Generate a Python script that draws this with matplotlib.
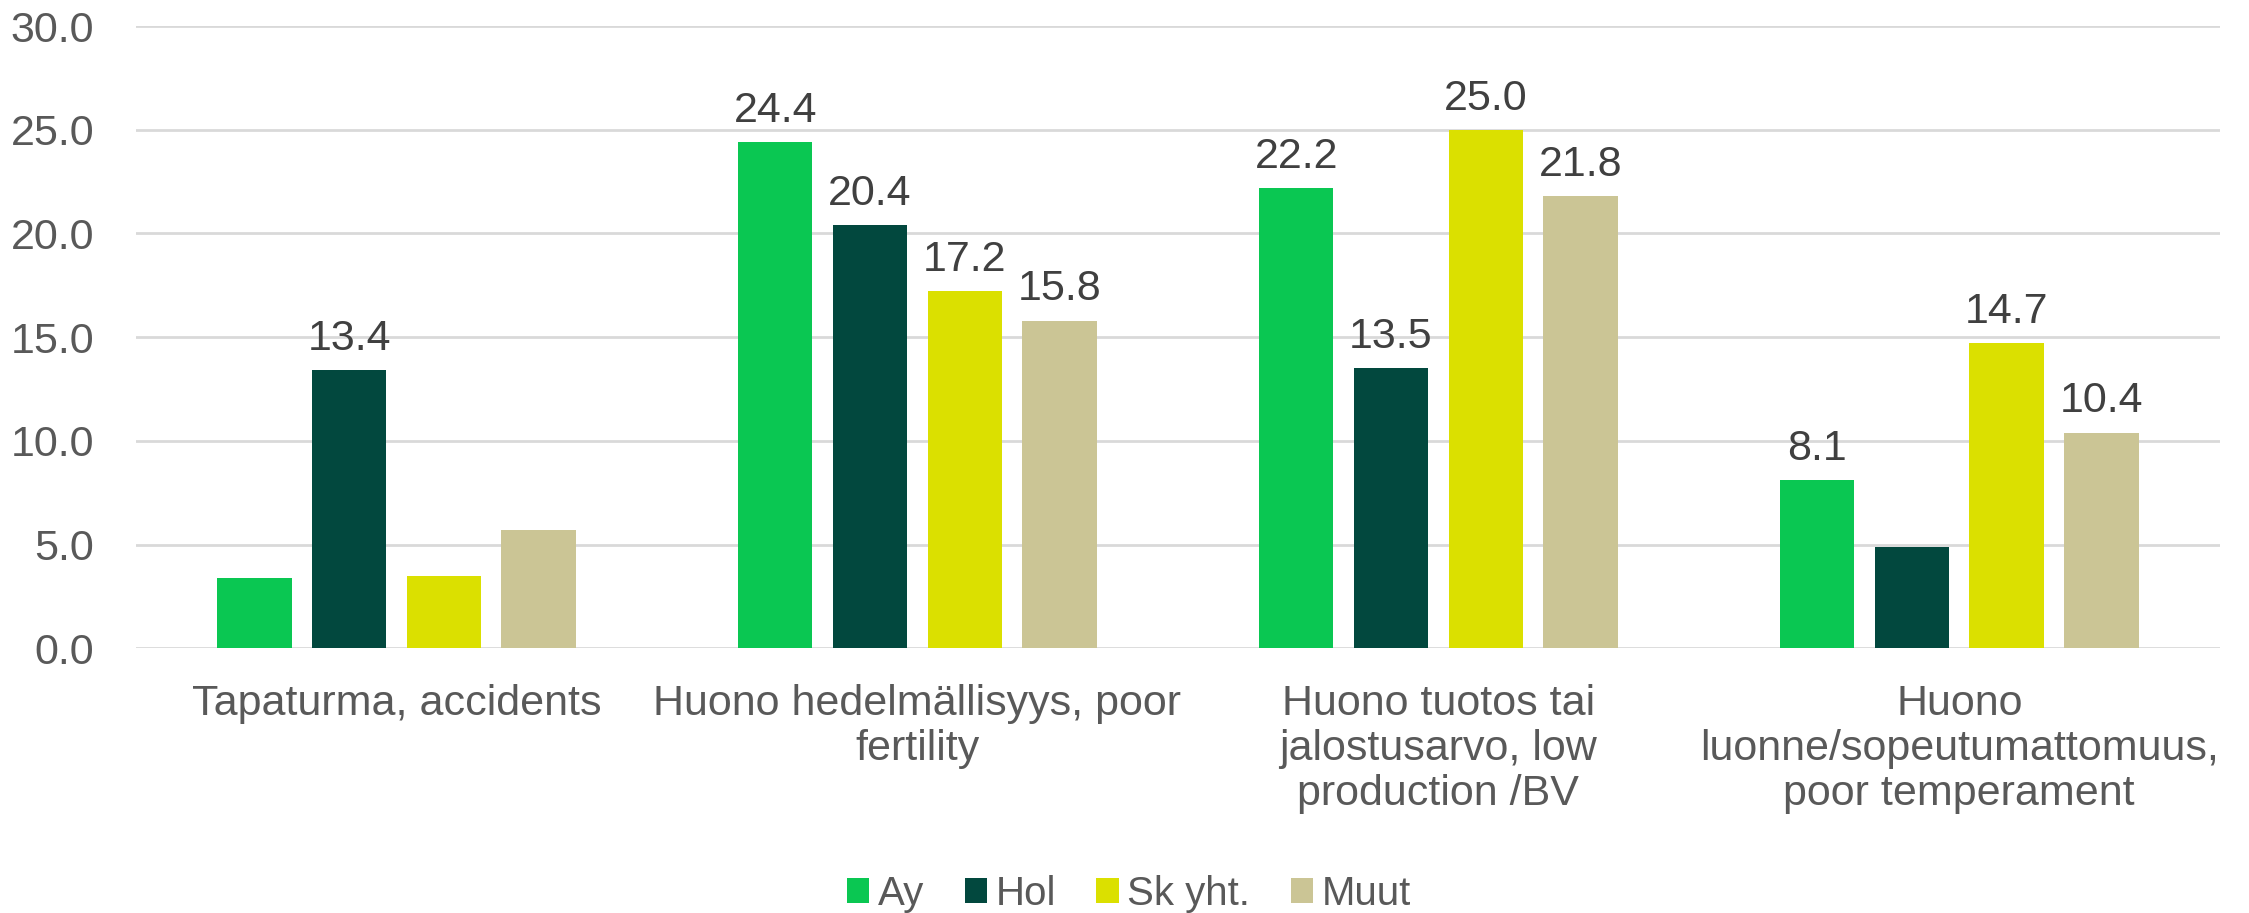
import numpy as np
import matplotlib.pyplot as plt

plt.rcParams['font.family'] = ['Liberation Sans', 'DejaVu Sans']

# Data
categories = ["Tapaturma, accidents",
              "Huono hedelmällisyys, poor\nfertility",
              "Huono tuotos tai\njalostusarvo, low\nproduction /BV",
              "Huono\nluonne/sopeutumattomuus,\npoor temperament"]
series = ["Ay", "Hol", "Sk yht.", "Muut"]
ay = [3.4, 24.4, 22.2, 8.1]
hol = [13.4, 20.4, 13.5, 4.9]
sk = [3.5, 17.2, 25.0, 14.7]
muut = [5.7, 15.8, 21.8, 10.4]
# which bars carry a value label
show_ay = [False, True, True, True]
show_hol = [True, True, True, False]
show_sk = [False, True, True, True]
show_muut = [False, True, True, True]

colors = ["#0ac752", "#02483e", "#dbe000", "#cbc595"]
values = [ay, hol, sk, muut]
shows = [show_ay, show_hol, show_sk, show_muut]

fig = plt.figure(figsize=(22.49, 9.13), dpi=100)
ax = fig.add_axes([0.0605, 0.290, 0.9265, 0.6815])

x = np.arange(len(categories))
step = 0.182
width = 0.143
for i, (vals, show, col, name) in enumerate(zip(values, shows, colors, series)):
    pos = x + (i - 1.5) * step
    ax.bar(pos, vals, width, color=col, label=name, zorder=3)
    for p, v, s in zip(pos, vals, show):
        if s:
            ax.annotate(f"{v:.1f}", (p, v), xytext=(0, 8), textcoords="offset points",
                        ha="center", va="bottom", fontsize=31, color="#404040")

ax.set_xlim(-0.5, len(categories) - 0.5)
ax.set_ylim(0, 30)
ax.set_yticks(np.arange(0, 31, 5))
ax.set_yticklabels([f"{t:.1f}" for t in np.arange(0, 31, 5)])
ax.set_xticks(x)
ax.set_xticklabels(categories, linespacing=1.15)
ax.tick_params(axis="both", length=0, labelsize=31, labelcolor="#595959")
ax.tick_params(axis="x", pad=26)
ax.tick_params(axis="y", pad=30)
ax.yaxis.grid(True, color="#d9d9d9", linewidth=2, zorder=0)
for sp in ax.spines.values():
    sp.set_visible(False)

leg = fig.legend(loc="center", bbox_to_anchor=(0.502, 0.021), ncol=4, frameon=False,
                 fontsize=29, handlelength=0.55, handleheight=0.55, handletextpad=0.22,
                 columnspacing=1.0, borderpad=0)
for t in leg.get_texts():
    t.set_color("#595959")

fig.savefig("out.png", dpi=100)
